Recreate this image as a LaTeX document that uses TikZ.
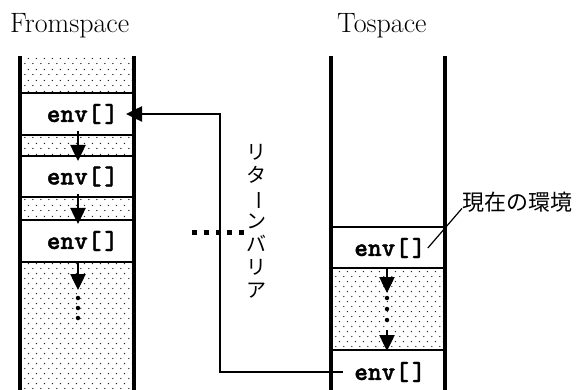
\documentclass[tikz,border=0pt]{standalone}
\usepackage{fontspec}
\newfontfamily\jp{Noto Sans CJK JP}
\newfontfamily\envfont{lmmonolt10-bold.otf}[FakeBold=1.5]
\usetikzlibrary{arrows.meta,patterns}
\pgfdeclarepatternformonly{mydots}{\pgfpointorigin}{\pgfpoint{7.6pt}{10.4pt}}{\pgfpoint{7.6pt}{10.4pt}}{%
  \pgfpathcircle{\pgfpoint{1.9pt}{2.6pt}}{0.75pt}%
  \pgfpathcircle{\pgfpoint{5.7pt}{7.8pt}}{0.75pt}%
  \pgfusepath{fill}}
\newcommand{\envlabel}{env[\kern3pt]}
\tikzset{
  region/.style={rectangle, minimum width=114pt, inner sep=0pt, outer sep=0pt},
  dotreg/.style={region, pattern=mydots, pattern color=black!85},
  envbox/.style={region, draw, line width=2pt},
  envtxt/.style={font=\envfont\fontsize{26}{27}\selectfont, inner sep=0pt},
  title/.style={font=\fontsize{28}{30}\selectfont, inner sep=0pt, anchor=base west},
  wall/.style={line width=3.3pt},
  arr/.style={line width=2.5pt, -{Triangle[length=16pt,width=15pt]}},
  dotted dot/.style={circle, fill=black, inner sep=0pt, minimum size=4.5pt},
}
\begin{document}
\begin{tikzpicture}[x=1pt,y=-1pt]
\useasboundingbox (0,0) rectangle (581,390);
% titles
\node[title] (tf) at (10,33) {Fromspace};
\node[title] (tt) at (337,33) {Tospace};
% Fromspace regions
\node[dotreg, minimum height=37pt] (fd0) at (77,74.5) {};
\node[envbox, minimum height=42pt] (f1) at (77,114) {};
\node[dotreg, minimum height=21pt] (fd1) at (77,145.5) {};
\node[envbox, minimum height=41pt] (f2) at (77,176.5) {};
\node[dotreg, minimum height=23pt] (fd2) at (77,208.5) {};
\node[envbox, minimum height=42pt] (f3) at (77,241) {};
\node[dotreg, minimum height=130pt] (fd3) at (77,327) {};
\node[envtxt] (e1) at (82.5,114) {\envlabel};
\node[envtxt] (e2) at (82.5,176.5) {\envlabel};
\node[envtxt] (e3) at (82.5,241) {\envlabel};
% Tospace regions
\node[envbox, minimum height=41pt] (t1) at (388,247.5) {};
\node[dotreg, minimum height=82pt] (td) at (388,309) {};
\node[envbox, minimum height=46pt] (t2) at (388,373) {};
\node[envtxt] (e4) at (390,248) {\envlabel};
\node[envtxt] (e5) at (390,372) {\envlabel};
% walls
\draw[wall] (20,56) -- (20,392) (134,56) -- (134,392);
\draw[wall] (331,56) -- (331,392) (445,56) -- (445,392);
% arrows in fromspace
\draw[arr] ([xshift=1pt,yshift=4pt]f1.south) -- ([xshift=1pt,yshift=-5pt]f2.north);
\draw[arr] ([xshift=1pt,yshift=3pt]f2.south) -- ([xshift=1pt,yshift=-4pt]f3.north);
\draw[arr] ([xshift=1pt]f3.south) -- ([xshift=1pt,yshift=-28pt]f3.south);
\node[dotted dot] (fa) at (78,298) {};
\node[dotted dot] (fb) at (78,308) {};
\node[dotted dot] (fc) at (78,318) {};
% arrows in tospace
\draw[arr] ([xshift=-1pt]t1.south) -- ([xshift=-1pt,yshift=-25pt]t1.south);
\node[dotted dot] (ta) at (387,298) {};
\node[dotted dot] (tb) at (387,309) {};
\node[dotted dot] (tc) at (387,320) {};
\draw[arr] ([xshift=-1pt,yshift=20pt]t2.north) -- ([xshift=-1pt,yshift=-1pt]t2.north);
% return barrier path
\coordinate (bar) at (220,0);
\draw[arr] ([xshift=12pt]t2.west |- e5.center) -- (bar |- e5.center) -- (bar |- f1.east) -- ([xshift=-8pt]f1.east);
% dotted barrier line
\coordinate (d1) at (192,233);
\coordinate (d2) at (245,233);
\draw[line width=5pt, dash pattern=on 5pt off 6.8pt] (d1) -- (d2);
% vertical label
\node[font=\jp\fontsize{20}{23}\selectfont, align=center, inner sep=0pt] (rb) at (256,221)
  {リ\\タ\\\rotatebox[origin=c]{-90}{ー}\\ン\\バ\\リ\\ア};
% current environment label
\node[font=\jp\fontsize{22}{24}\selectfont, anchor=west, inner sep=0pt] (cur) at (462,202) {現在の環境};
\draw[line width=1.2pt] ([xshift=2pt]e4.east) -- ([yshift=4pt]cur.south west);
\end{tikzpicture}
\end{document}
